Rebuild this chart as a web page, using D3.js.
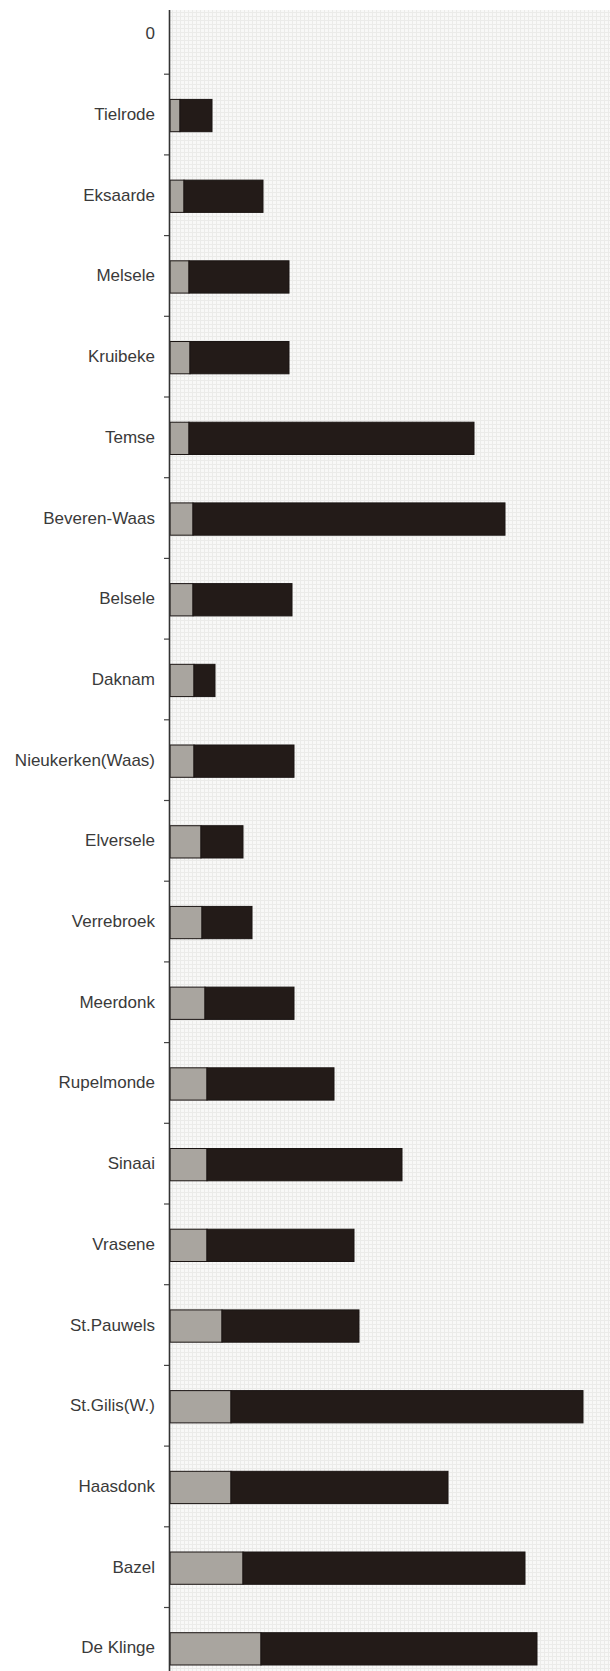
<!DOCTYPE html>
<html>
<head>
<meta charset="utf-8">
<script src="https://cdnjs.cloudflare.com/ajax/libs/d3/7.8.5/d3.min.js"></script>
<style>
  html, body { margin: 0; padding: 0; background: #fff; }
  .label { font-family: "Liberation Sans", Arial, sans-serif; font-size: 17px; fill: #3a3a3a; }
</style>
</head>
<body>
<div id="chart"></div>
<script>

// villages, top to bottom
var categories = ["0", "Tielrode", "Eksaarde", "Melsele", "Kruibeke", "Temse", "Beveren-Waas",
  "Belsele", "Daknam", "Nieukerken(Waas)", "Elversele", "Verrebroek", "Meerdonk", "Rupelmonde",
  "Sinaai", "Vrasene", "St.Pauwels", "St.Gilis(W.)", "Haasdonk", "Bazel", "De Klinge"];

// grey part of each bar
var greyValues = [0, 10, 14, 19, 20, 19, 23, 23, 24, 24, 31, 32, 35, 37, 37, 37, 52, 61, 61, 73, 91];

// black part, stacked after the grey
var blackValues = [0, 32, 79, 100, 99, 285, 312, 99, 21, 100, 42, 50, 89, 127, 195, 147, 137, 352, 217, 282, 276];

var xMax = 440;

var W = 610, H = 1671;
var axisX = 170;

var rows = categories.map(function(c, i) {
  return { name: c, grey: greyValues[i], black: blackValues[i] };
});

var x = d3.scaleLinear().domain([0, xMax]).range([axisX, W]);
var y = d3.scaleBand().domain(categories).range([-6.5, -6.5 + 80.7 * categories.length]).padding(0);

var barH = y.bandwidth() * 0.4;

var svg = d3.select("#chart").append("svg")
  .attr("width", W)
  .attr("height", H);

// graph paper background
var defs = svg.append("defs");
var pat = defs.append("pattern")
  .attr("id", "paper")
  .attr("width", 4)
  .attr("height", 4)
  .attr("patternUnits", "userSpaceOnUse");
pat.append("rect").attr("width", 4).attr("height", 4).attr("fill", "#f8f8f7");
pat.append("line").attr("x1", 0).attr("y1", 0.5).attr("x2", 4).attr("y2", 0.5)
  .attr("stroke", "#ebebe9").attr("stroke-width", 1);
pat.append("line").attr("x1", 0.5).attr("y1", 0).attr("x2", 0.5).attr("y2", 4)
  .attr("stroke", "#ebebe9").attr("stroke-width", 1);

svg.append("rect")
  .attr("x", axisX)
  .attr("y", 10)
  .attr("width", W - axisX)
  .attr("height", H - 10)
  .attr("fill", "url(#paper)");

// stacked bars
var stack = d3.stack().keys(["grey", "black"]);
var series = stack(rows);
var colors = { grey: "#a9a59f", black: "#231b18" };

svg.selectAll("g.series")
  .data(series)
  .enter().append("g")
  .attr("class", "series")
  .attr("fill", function(d) { return colors[d.key]; })
  .selectAll("rect")
  .data(function(d) { return d; })
  .enter().append("rect")
  .filter(function(d) { return d[1] > d[0]; })
  .attr("x", function(d) { return x(d[0]); })
  .attr("width", function(d) { return x(d[1]) - x(d[0]); })
  .attr("y", function(d) { return y(d.data.name) + (y.bandwidth() - barH) / 2 + 1; })
  .attr("height", barH)
  .attr("stroke", "#1a1412")
  .attr("stroke-width", 1);

// category axis
var yAxis = svg.append("g")
  .attr("transform", "translate(" + axisX + ",0)")
  .call(d3.axisLeft(y).tickSize(0).tickPadding(15));

yAxis.select(".domain").remove();
yAxis.selectAll("text")
  .attr("class", "label")
  .attr("font-size", null)
  .attr("font-family", null);

// tick marks between categories
svg.append("g")
  .selectAll("line")
  .data(categories.slice(1))
  .enter().append("line")
  .attr("x1", axisX - 6)
  .attr("x2", axisX)
  .attr("y1", function(d) { return y(d); })
  .attr("y2", function(d) { return y(d); })
  .attr("stroke", "#444")
  .attr("stroke-width", 1.2);

svg.append("line")
  .attr("x1", axisX - 0.5)
  .attr("x2", axisX - 0.5)
  .attr("y1", 10)
  .attr("y2", H)
  .attr("stroke", "#333")
  .attr("stroke-width", 1.6);

</script>
</body>
</html>
